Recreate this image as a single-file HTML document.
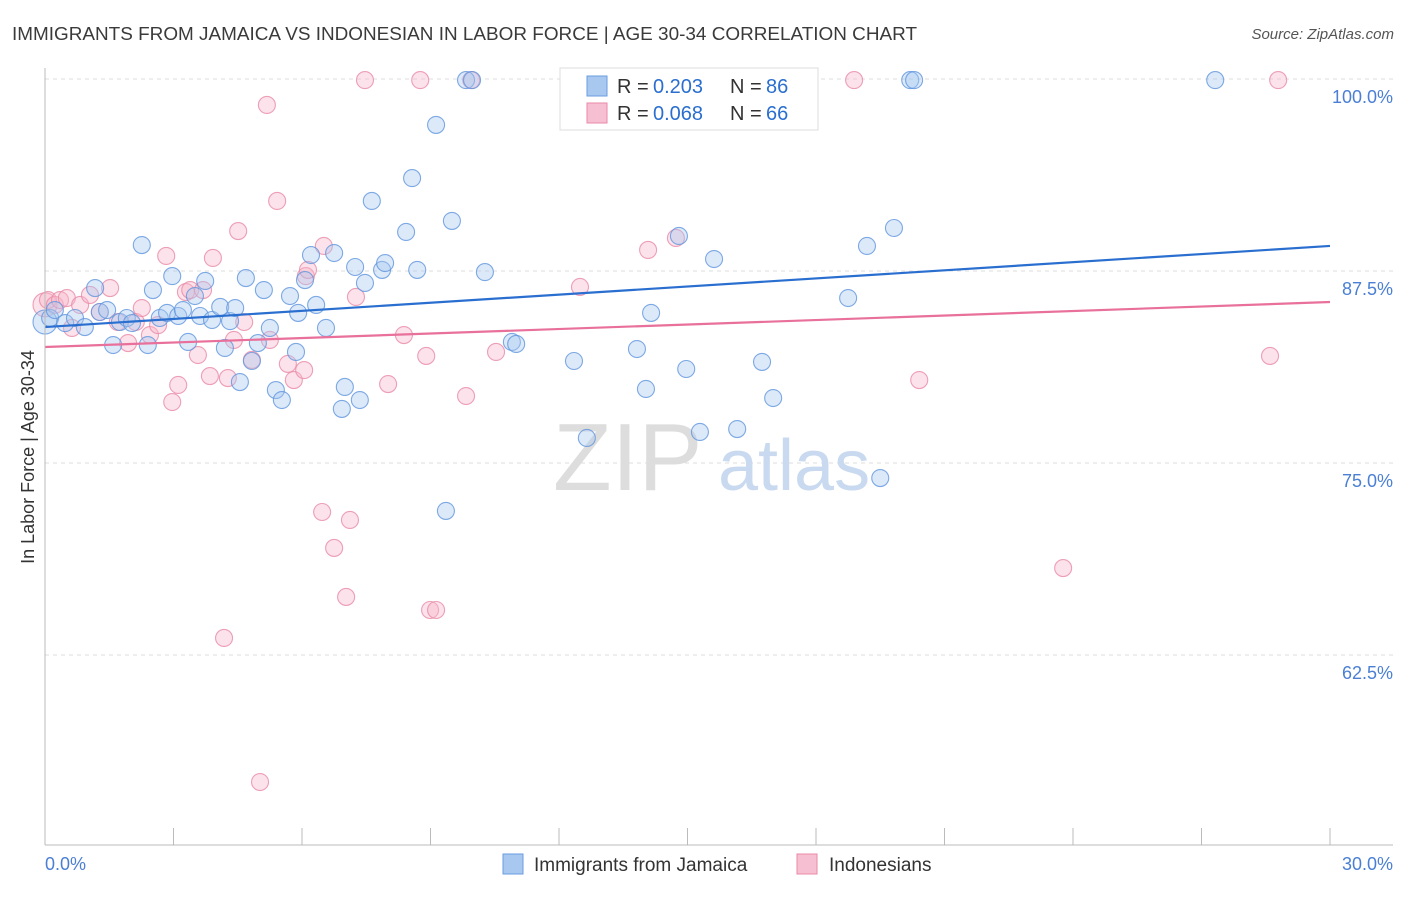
<!DOCTYPE html>
<html><head><meta charset="utf-8"><style>
body{margin:0;background:#fff;font-family:"Liberation Sans",sans-serif;}
svg text{font-family:"Liberation Sans",sans-serif;}
</style></head><body>
<svg width="1406" height="892" xmlns="http://www.w3.org/2000/svg">
<text x="12" y="40" font-size="18" fill="#3a3a3a" textLength="905" lengthAdjust="spacingAndGlyphs">IMMIGRANTS FROM JAMAICA VS INDONESIAN IN LABOR FORCE | AGE 30-34 CORRELATION CHART</text>
<text x="1394" y="39" font-size="15" fill="#555" font-style="italic" text-anchor="end">Source: ZipAtlas.com</text>
<g id="grid"></g>
<g><text x="553" y="490" font-size="96" font-family="Liberation Serif" fill="#ddd">ZIP</text><text x="718" y="490" font-size="72" fill="#c9daf0">atlas</text></g>
<g id="pts-pink"></g>
<g id="pts-blue"></g>
<g id="trends"></g>
<line x1="45" y1="68" x2="45" y2="845" stroke="#bbb"/>
<line x1="45" y1="845" x2="1393" y2="845" stroke="#bbb"/>
<text x="45" y="870" font-size="18" fill="#4a7fd4">0.0%</text>
<text x="1393" y="870" font-size="18" fill="#4a7fd4" text-anchor="end">30.0%</text>
<text transform="translate(34,457) rotate(-90)" font-size="18" fill="#333" text-anchor="middle">In Labor Force | Age 30-34</text>
<g>
<rect x="560" y="68" width="258" height="62" fill="#fff" stroke="#ddd"/>
<rect x="587" y="76" width="20" height="20" fill="#a8c8f0" stroke="#6a9ee0"/>
<rect x="587" y="103" width="20" height="20" fill="#f7c0d2" stroke="#e88aa8"/>
<text x="617" y="93" font-size="20" fill="#333">R =</text><text x="653" y="93" font-size="20" fill="#2a6fd0">0.203</text>
<text x="730" y="93" font-size="20" fill="#333">N =</text><text x="766" y="93" font-size="20" fill="#2a6fd0">86</text>
<text x="617" y="120" font-size="20" fill="#333">R =</text><text x="653" y="120" font-size="20" fill="#2a6fd0">0.068</text>
<text x="730" y="120" font-size="20" fill="#333">N =</text><text x="766" y="120" font-size="20" fill="#2a6fd0">66</text>
</g>
<g>
<rect x="503" y="854" width="20" height="20" fill="#a8c8f0" stroke="#6a9ee0"/>
<text x="534" y="871" font-size="19" fill="#333">Immigrants from Jamaica</text>
<rect x="797" y="854" width="20" height="20" fill="#f7c0d2" stroke="#e88aa8"/>
<text x="829" y="871" font-size="19" fill="#333">Indonesians</text>
</g>
</svg>
<script>
const yTicks=[100,87.5,75,62.5];
const yTickLabels=["100.0%","87.5%","75.0%","62.5%"];
const xTicks=[0,3,6,9,12,15,18,21,24,27,30];
const blueX=[0,.12,.23,.47,.70,.93,1.17,1.28,1.45,1.59,1.75,1.91,2.03,2.26,2.40,2.52,2.68,2.85,2.97,3.11,3.22,3.34,3.50,3.62,3.74,3.90,4.09,4.20,4.32,4.44,4.55,4.69,4.83,4.97,5.11,5.25,5.39,5.53,5.72,5.86,5.91,6.07,6.21,6.33,6.56,6.75,6.93,7.00,7.24,7.35,7.47,7.87,7.94,7.63,8.43,8.57,8.69,9.13,9.36,9.50,9.83,9.97,10.27,10.90,11.00,12.35,12.65,13.82,14.03,14.15,14.80,14.97,15.29,15.62,16.16,16.74,17.00,18.75,19.19,19.50,19.82,20.20,20.29,27.32];
const blueY=[84.18,84.44,84.96,84.11,84.44,83.85,86.39,84.83,84.96,82.68,84.18,84.44,84.11,89.19,82.68,86.26,84.44,84.77,87.17,84.57,84.96,82.88,85.87,84.57,86.85,84.31,85.16,82.49,84.24,85.09,80.27,87.04,81.64,82.81,86.26,83.79,79.75,79.10,85.87,82.23,84.77,86.91,88.54,85.29,83.79,88.67,78.52,79.95,87.76,79.10,86.72,87.57,88.02,92.06,90.04,93.55,87.57,97.01,71.88,90.76,99.93,99.93,87.43,82.88,82.75,81.64,76.63,82.42,79.82,84.77,89.78,81.12,77.02,88.28,77.21,81.58,79.23,85.74,89.13,74.02,90.30,99.93,99.93,99.93];
const pinkX=[0,.07,.23,.35,.51,.63,.82,1.05,1.28,1.52,1.70,1.94,2.12,2.26,2.45,2.64,2.83,2.97,3.11,3.29,3.39,3.57,3.69,3.85,3.92,4.18,4.27,4.41,4.51,4.65,4.83,5.02,5.18,5.25,5.42,5.67,5.81,6.05,6.09,6.14,6.47,6.51,6.75,7.03,7.12,7.26,7.47,8.01,8.38,8.76,8.90,8.99,9.13,9.83,9.95,10.53,12.49,14.08,14.73,18.89,20.41,23.77,28.60,28.79];
const pinkY=[85.3,85.61,85.29,85.61,85.74,83.79,85.29,85.94,84.83,86.39,84.18,82.81,84.18,85.09,83.33,83.98,88.48,78.97,80.08,86.13,86.26,82.03,86.26,80.66,88.35,63.61,80.53,83.01,90.10,84.18,81.71,54.23,98.31,83.01,92.06,81.45,80.40,81.05,87.17,87.57,71.81,89.13,69.47,66.28,71.29,85.81,99.93,80.14,83.33,99.93,81.97,65.43,65.43,79.36,99.93,82.23,86.46,88.87,89.65,99.93,80.40,68.16,81.97,99.93];
const blueTrend=[83.85,89.13];
const pinkTrend=[82.55,85.48];
const NS="http://www.w3.org/2000/svg";
const xs=v=>45+v/30*1285;
const ys=v=>79+(100-v)*15.36;
function mk(tag,attrs,parent){const e=document.createElementNS(NS,tag);for(const k in attrs)e.setAttribute(k,attrs[k]);parent.appendChild(e);return e;}
const grid=document.getElementById('grid');
yTicks.forEach((t,i)=>{
 const l=mk('line',{x1:45,x2:1393,y1:ys(t),y2:ys(t),stroke:'#ddd','stroke-dasharray':'4,4'},grid);
 
 
 const tx=mk('text',{x:1393,y:ys(t)+24,'font-size':18,fill:'#4a7fd4','text-anchor':'end'},grid);
 tx.textContent=yTickLabels[i];
 
 
});
xTicks.forEach(t=>{
 const l=mk('line',{x1:xs(t),x2:xs(t),y1:828,y2:845,stroke:'#bbb'},grid);
 
 
});
function pts(X,Y,g,fill,stroke,name){
 X.forEach((x,i)=>{
  const r=i===0?12:8.5;
  const c=mk('circle',{cx:xs(x),cy:ys(Y[i]),r:r,fill:fill,'fill-opacity':0.4,stroke:stroke,'stroke-opacity':0.8,'stroke-width':1.1},g);
  
  
 });
}
pts(pinkX,pinkY,document.getElementById('pts-pink'),'#f7b6cb','#e88aa8','indonesians-point');
pts(blueX,blueY,document.getElementById('pts-blue'),'#a8c8f0','#5f95dd','jamaica-point');
const tr=document.getElementById('trends');
const bl=mk('line',{x1:xs(0),y1:ys(blueTrend[0]),x2:xs(30),y2:ys(blueTrend[1]),stroke:'#2a6fd0','stroke-width':2.2},tr);


const pl=mk('line',{x1:xs(0),y1:ys(pinkTrend[0]),x2:xs(30),y2:ys(pinkTrend[1]),stroke:'#e8709a','stroke-width':2.2},tr);


</script>
</body></html>
